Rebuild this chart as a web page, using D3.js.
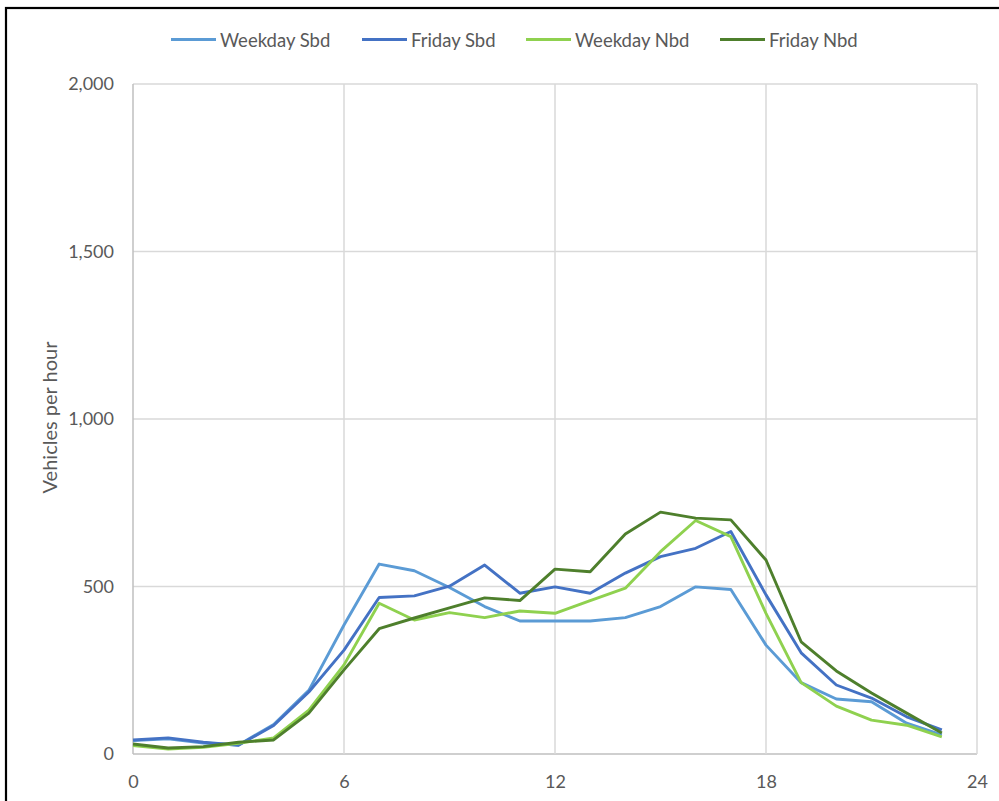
<!DOCTYPE html>
<html><head><meta charset="utf-8">
<script src="https://cdn.jsdelivr.net/npm/d3@7"></script>
<style>body{margin:0;background:#fff;} svg{display:block;font-family:Lato,"Open Sans",sans-serif;}</style>
</head><body>
<svg id="chart" width="999" height="801"></svg>
<script>
const hours = [0,1,2,3,4,5,6,7,8,9,10,11,12,13,14,15,16,17,18,19,20,21,22,23];
const weekdaySbd = [40,45,33,27,88,190,385,567,547,497,440,397,397,397,407,440,499,491,325,213,164,156,92,57];
const fridaySbd  = [42,48,35,26,85,185,310,467,472,501,564,480,499,480,540,589,614,664,475,302,206,167,111,72];
const weekdayNbd = [25,15,20,32,48,131,266,450,400,422,407,427,420,458,495,604,697,649,420,213,143,101,86,51];
const fridayNbd  = [30,18,22,35,42,122,251,374,406,436,466,458,552,544,657,722,704,699,579,335,248,182,122,63];
const seriesNames = ["Weekday Sbd","Friday Sbd","Weekday Nbd","Friday Nbd"];
const seriesColors = ["#5b9bd5","#4472c4","#8fd14f","#4e7f2c"];
const xTicks = [0,6,12,18,24];
const yTicks = [0,500,1000,1500,2000];
const yTitle = "Vehicles per hour";

const series = [weekdaySbd, fridaySbd, weekdayNbd, fridayNbd];
const svg = d3.select("#chart");
const L=133, R=977, T=84, B=754;
const x = d3.scaleLinear().domain([0,24]).range([L,R]);
const y = d3.scaleLinear().domain([0,2000]).range([B,T]);

// outer border
svg.append("rect").attr("x",6).attr("y",8).attr("width",1100).attr("height",900)
  .attr("fill","none").attr("stroke","#000").attr("stroke-width",2.2);

// gridlines
svg.append("g").selectAll("line").data(yTicks).join("line")
  .attr("x1",L).attr("x2",R).attr("y1",d=>y(d)).attr("y2",d=>y(d))
  .attr("stroke",d=>d===0?"#bfbfbf":"#d9d9d9").attr("stroke-width",1.5);
svg.append("g").selectAll("line").data(xTicks).join("line")
  .attr("y1",T).attr("y2",B).attr("x1",d=>x(d)).attr("x2",d=>x(d))
  .attr("stroke",d=>d===0?"#bfbfbf":"#d9d9d9").attr("stroke-width",1.5);

// axes labels
const yAxis = d3.axisLeft(y).tickValues(yTicks).tickFormat(d3.format(",")).tickSize(0).tickPadding(19);
const gy = svg.append("g").attr("transform",`translate(${L},0)`).call(yAxis);
gy.select(".domain").remove();
gy.selectAll("text").attr("fill","#595959").style("font-size","18px").style("font-family","Lato,sans-serif");
const xAxis = d3.axisBottom(x).tickValues(xTicks).tickSize(0).tickPadding(21);
const gx = svg.append("g").attr("transform",`translate(0,${B})`).call(xAxis);
gx.select(".domain").remove();
gx.selectAll("text").attr("fill","#595959").style("font-size","18px").style("font-family","Lato,sans-serif");

svg.append("text").attr("transform",`translate(56.5,417.5) rotate(-90)`)
  .attr("text-anchor","middle").attr("fill","#595959").style("font-size","20px").text(yTitle);

// lines
const line = d3.line().x((d,i)=>x(hours[i])).y(d=>y(d));
series.forEach((s,k)=>{
  svg.append("path").datum(s).attr("d",line).attr("fill","none")
    .attr("stroke",seriesColors[k]).attr("stroke-width",2.9).attr("stroke-linejoin","round");
});

// legend
const legX = [171,362,526,720];
const lg = svg.append("g");
seriesNames.forEach((n,k)=>{
  lg.append("line").attr("x1",legX[k]).attr("x2",legX[k]+45).attr("y1",39.5).attr("y2",39.5)
    .attr("stroke",seriesColors[k]).attr("stroke-width",2.9);
  lg.append("text").attr("x",legX[k]+49).attr("y",46.7).attr("fill","#595959")
    .style("font-size","18.5px").text(n);
});
</script>
</body></html>
